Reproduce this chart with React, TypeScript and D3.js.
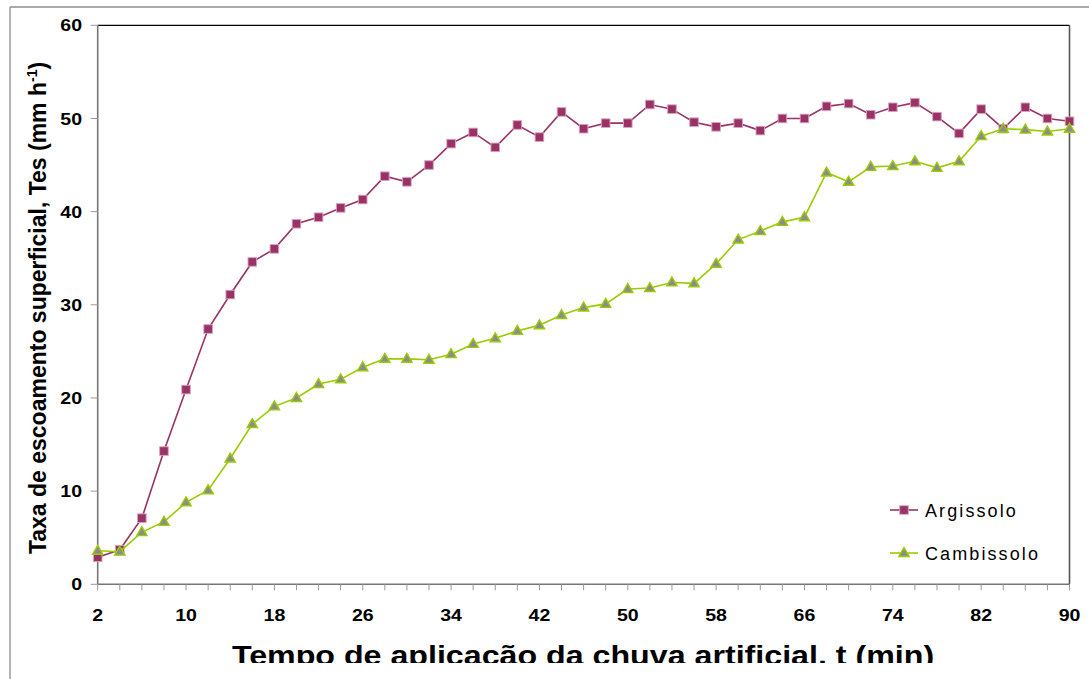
import React from "react";
import * as d3 from "d3";

const times = [2, 4, 6, 8, 10, 12, 14, 16, 18, 20, 22, 24, 26, 28, 30, 32, 34, 36, 38, 40, 42, 44, 46, 48, 50, 52, 54, 56, 58, 60, 62, 64, 66, 68, 70, 72, 74, 76, 78, 80, 82, 84, 86, 88, 90];
const argissolo = [2.9, 3.7, 7.1, 14.3, 20.9, 27.4, 31.1, 34.6, 36.0, 38.7, 39.4, 40.4, 41.3, 43.8, 43.2, 45.0, 47.3, 48.5, 46.9, 49.3, 48.0, 50.7, 48.9, 49.5, 49.5, 51.5, 51.0, 49.6, 49.1, 49.5, 48.7, 50.0, 50.0, 51.3, 51.6, 50.4, 51.2, 51.7, 50.2, 48.4, 51.0, 48.9, 51.2, 50.0, 49.7];
const cambissolo = [3.6, 3.5, 5.6, 6.7, 8.8, 10.1, 13.5, 17.2, 19.1, 20.0, 21.5, 22.0, 23.3, 24.2, 24.2, 24.1, 24.7, 25.8, 26.4, 27.2, 27.8, 28.9, 29.7, 30.1, 31.7, 31.8, 32.4, 32.3, 34.4, 37.0, 37.9, 38.9, 39.4, 44.2, 43.2, 44.8, 44.9, 45.4, 44.7, 45.4, 48.1, 48.9, 48.8, 48.6, 48.9];
const xTickLabels = [2, 10, 18, 26, 34, 42, 50, 58, 66, 74, 82, 90];
const yTickLabels = [0, 10, 20, 30, 40, 50, 60];
const seriesNames = ["Argissolo", "Cambissolo"];

const W = 1089;
const H = 679;
const PL = 97.7, PR = 1069.5, PT = 25.3, PB = 584.3;
const MAGENTA = "#993366";
const GREEN = "#99cc00";
const SX = 1.15;

export default function App() {
  const x = d3.scaleLinear().domain([2, 90]).range([PL, PR]);
  const y = d3.scaleLinear().domain([0, 60]).range([PB, PT]);
  const line = d3.line<number>().x((_, i) => x(times[i])).y((d) => y(d));
  const tri = d3.symbol().type(d3.symbolTriangle).size(46)() as string;
  const minorTicks = times;

  const square = (cx: number, cy: number, key: string | number) => (
    <rect key={key} x={cx - 4.3} y={cy - 4.3} width={8.6} height={8.6} fill={MAGENTA} stroke="#d9a3be" strokeWidth={0.9} />
  );
  const triangle = (cx: number, cy: number, key: string | number) => (
    <path key={key} d={tri} transform={`translate(${cx},${cy + 0.5})`} fill="#8c8c8c" stroke={GREEN} strokeWidth={1.4} />
  );

  return (
    <svg width={W} height={H} style={{ position: "absolute", left: 0, top: 0, background: "#fff" }} fontFamily="Arial, 'Liberation Sans', sans-serif">
      <defs>
        <clipPath id="titleclip">
          <rect x={0} y={0} width={W} height={663} />
        </clipPath>
      </defs>
      <rect x={0} y={0} width={W} height={H} fill="#fff" />
      {/* outer frame */}
      <line x1={10} y1={7} x2={W} y2={7} stroke="#8c8c8c" strokeWidth={1.3} />
      <line x1={10} y1={7} x2={10} y2={H} stroke="#8c8c8c" strokeWidth={1.3} />

      {/* plot border */}
      <line x1={PL} y1={PT} x2={PR} y2={PT} stroke="#000" strokeWidth={1.3} />
      <line x1={PR} y1={PT} x2={PR} y2={PB} stroke="#555" strokeWidth={1.6} />
      <line x1={PL} y1={PT} x2={PL} y2={PB} stroke="#777" strokeWidth={1.6} />
      <line x1={PL} y1={PB} x2={PR} y2={PB} stroke="#777" strokeWidth={1.6} />

      {/* y ticks */}
      {yTickLabels.map((v) => (
        <g key={"y" + v}>
          <line x1={PL - 7} x2={PL} y1={y(v)} y2={y(v)} stroke="#999" strokeWidth={1} />
          <text transform={`translate(82,${y(v)}) scale(${SX},1)`} dy="0.36em" textAnchor="end" fontSize={17} fontWeight="bold" fill="#000">{v}</text>
        </g>
      ))}
      {/* x ticks */}
      {minorTicks.map((t) => (
        <line key={"xt" + t} x1={x(t)} x2={x(t)} y1={PB} y2={PB + 6} stroke="#999" strokeWidth={1} />
      ))}
      {xTickLabels.map((t) => (
        <text key={"xl" + t} transform={`translate(${x(t)},621) scale(${SX},1)`} textAnchor="middle" fontSize={17} fontWeight="bold" fill="#000">{t}</text>
      ))}

      {/* series */}
      <path d={line(argissolo) as string} fill="none" stroke={MAGENTA} strokeWidth={1.6} />
      {argissolo.map((v, i) => square(x(times[i]), y(v), "a" + i))}
      <path d={line(cambissolo) as string} fill="none" stroke={GREEN} strokeWidth={1.6} />
      {cambissolo.map((v, i) => triangle(x(times[i]), y(v), "c" + i))}

      {/* legend */}
      <line x1={890} x2={918} y1={510} y2={510} stroke={MAGENTA} strokeWidth={1.6} />
      {square(904, 510, "la")}
      <text x={925} y={517} fontSize={18} letterSpacing={2.1} fill="#000" fontFamily="'Liberation Sans', Arial, sans-serif">{seriesNames[0]}</text>
      <line x1={890} x2={918} y1={553} y2={553} stroke={GREEN} strokeWidth={1.6} />
      {triangle(904, 553, "lc")}
      <text x={925} y={560} fontSize={18} letterSpacing={2.1} fill="#000" fontFamily="'Liberation Sans', Arial, sans-serif">{seriesNames[1]}</text>

      {/* y title */}
      <text transform="translate(46,308) rotate(-90)" textAnchor="middle" fontSize={23} fontWeight="bold" fill="#000">
        Taxa de escoamento superficial, Tes (mm h<tspan dy={-9} fontSize={14}>-1</tspan><tspan dy={9}>)</tspan>
      </text>

      {/* x title (clipped like the reference) */}
      <g clipPath="url(#titleclip)">
        <text transform={`translate(583,665) scale(${SX},1)`} textAnchor="middle" fontSize={28} fontWeight="bold" fill="#000">
          Tempo de aplicação da chuva artificial, t (min)
        </text>
      </g>
    </svg>
  );
}
